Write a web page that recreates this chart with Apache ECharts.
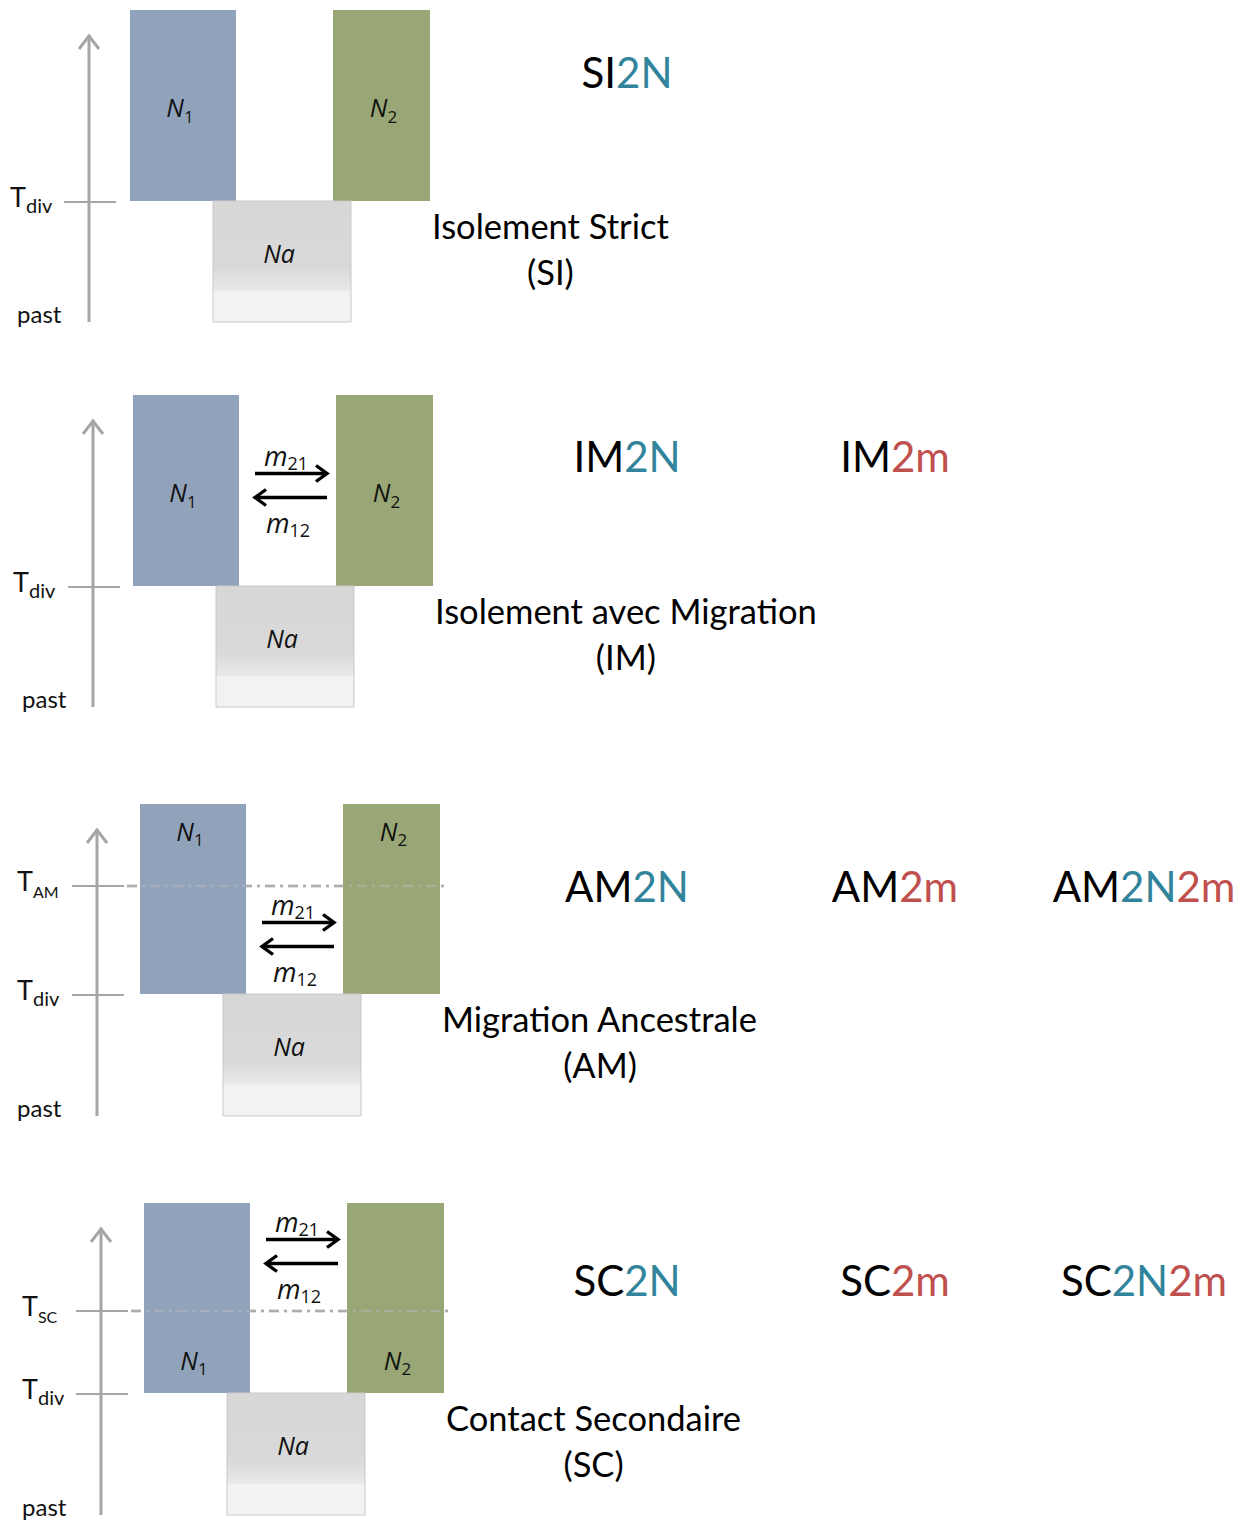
<!DOCTYPE html>
<html>
<head>
<meta charset="utf-8">
<title>Modèles démographiques</title>
<script src="https://cdn.jsdelivr.net/npm/echarts@6/dist/echarts.min.js"></script>
<style>
    html, body { margin: 0; padding: 0; background: #fff; }
    #chart { width: 1249px; height: 1521px; }
</style>
</head>
<body>
<div id="chart"></div>
<script>
// ================================
// 1. données
// ================================
const scenarios = ['SI', 'IM', 'AM', 'SC'];
const scenarioTitles = ['Isolement Strict', 'Isolement avec Migration', 'Migration Ancestrale', 'Contact Secondaire'];
const modelNames = [
    ['SI2N'],
    ['IM2N', 'IM2m'],
    ['AM2N', 'AM2m', 'AM2N2m'],
    ['SC2N', 'SC2m', 'SC2N2m']
];
// axe du temps : 0 = passé, 312 = présent
const tPast = 0;
const tPresent = 312;
const tDiv = [121, 121, 122, 122];
const tEvent = [null, null, 231, 205];        // T_AM, T_SC
const eventLabels = [null, null, 'AM', 'SC'];
const migration = [null, [121, 312], [122, 231], [205, 312]];   // période de flux m12 / m21

// ================================
// 2. mise en page
// ================================
const PANEL_TOP = [10, 395, 804, 1203];
const PANEL_SHIFT = [0, 3, 10, 14];
const PANEL_H = 312;
const PANEL_W = 1200;
const AXIS_X = [89, 93, 97, 101];       // absolu
const TLAB_X = [10, 13, 17, 22];
const PAST_X = [17, 22, 17, 22];
const MODEL_COLS = [627, 895, 1144];
const MODEL_T = [250, 251, 230, 235];
const N_LABEL_POS = ['mid', 'mid', 'top', 'bottom'];
const BOX = {
    n1: [130, 236], n2: [333, 430], na: [213, 351],
    migr: [252, 324], dash: [117, 437], axisTop: 287, titleLeft: 432
};

const GRAY = '#A6A6A6';
const TEAL = '#31849B';
const RED = '#C0504D';
const SANS = 'Lato';
const ITAL = 'Open Sans';

function richModel(name) {
    const parts = name.slice(2).match(/2[Nm]/g) || [];
    return `{k|${name.slice(0, 2)}}` + parts.map(p => p === '2N' ? `{b|${p}}` : `{r|${p}}`).join('');
}

const subRich = (mainSize, subSize, mainLH, family) => ({
    n: { fontSize: mainSize, fontFamily: family, fontStyle: 'italic', fill: '#111', lineHeight: mainLH, verticalAlign: 'top' },
    s: { fontSize: subSize, fontFamily: family, fill: '#111', lineHeight: 16, verticalAlign: 'bottom' }
});

function renderPanel(i) {
    return function (params, api) {
        const sh = PANEL_SHIFT[i];
        const P = (x, t) => api.coord([x, t]);
        const kids = [];
        const line = (a, b, style, z2) => kids.push({
            type: 'line', z2: z2 || 1,
            shape: { x1: a[0], y1: a[1], x2: b[0], y2: b[1] }, style
        });
        const text = (pos, str, style, z2) => {
            const el = { type: 'text', z2: z2 || 20, x: pos[0], y: pos[1], style: Object.assign({ text: str }, style) };
            kids.push(el);
            return el;
        };
        const rect = (xr, t0, t1, style, z2) => {
            const a = P(xr[0], t1), b = P(xr[1], t0);
            kids.push({ type: 'rect', z2: z2 || 5, shape: { x: a[0], y: a[1], width: b[0] - a[0], height: b[1] - a[1] }, style });
        };

        // ---- axe du temps ----
        const ax = AXIS_X[i] - sh;
        const top = P(ax, BOX.axisTop);
        line(P(ax, tPast), top, { stroke: GRAY, lineWidth: 3 });
        kids.push({
            type: 'polyline', z2: 2,
            shape: { points: [[top[0] - 10, top[1] + 14], [top[0], top[1] + 1], [top[0] + 10, top[1] + 14]] },
            style: { stroke: GRAY, lineWidth: 3, fill: null, lineJoin: 'miter' }
        });
        const ticks = [[tDiv[i], 'div']];
        if (tEvent[i] != null) ticks.push([tEvent[i], eventLabels[i]]);
        ticks.forEach(([t, lab]) => {
            const tt = t - 1;
            line(P(ax - 25, tt), P(ax + 27, tt), { stroke: GRAY, lineWidth: 2 });
            const p = P(TLAB_X[i] - sh, tt);
            text([p[0], p[1] - 3], `{n|T}{s|${lab}}`, {
                align: 'left', verticalAlign: 'middle',
                rich: {
                    n: { fontSize: 27, fontFamily: SANS, fill: '#111', lineHeight: 32, verticalAlign: 'top' },
                    s: { fontSize: lab === 'div' ? 20 : 16, fontFamily: SANS, fill: '#111', lineHeight: 16, verticalAlign: 'bottom' }
                }
            });
        });
        text(P(PAST_X[i] - sh, 9), 'past', { align: 'left', verticalAlign: 'middle', fontSize: 24, fontFamily: SANS, fill: '#111' });

        // ---- ligne T_AM / T_SC ----
        if (tEvent[i] != null) {
            line(P(BOX.dash[0], tEvent[i] - 1), P(BOX.dash[1], tEvent[i] - 1),
                { stroke: '#A0A0A0', lineWidth: 2.5, lineDash: [10, 5, 3, 5] }, 3);
        }

        // ---- populations ----
        rect(BOX.n1, tDiv[i], tPresent, { fill: '#91A3BA' });
        rect(BOX.n2, tDiv[i], tPresent, { fill: '#98A775' });
        rect(BOX.na, tPast, tDiv[i], {
            fill: new echarts.graphic.LinearGradient(0, 0, 0, 1, [
                { offset: 0, color: '#D7D7D7' },
                { offset: 0.55, color: '#D9D9D9' },
                { offset: 0.74, color: '#E9E9E9' },
                { offset: 0.745, color: '#F2F2F2' },
                { offset: 1, color: '#F2F2F2' }
            ]),
            stroke: '#C9C9C9', lineWidth: 1
        });
        if (tEvent[i] != null) {
            line(P(BOX.dash[0], tEvent[i] - 1), P(BOX.dash[1], tEvent[i] - 1),
                { stroke: 'rgba(185,185,185,0.5)', lineWidth: 2.5, lineDash: [10, 5, 3, 5] }, 6);
        }

        let tN;
        if (N_LABEL_POS[i] === 'top') tN = tPresent - 29;
        else if (N_LABEL_POS[i] === 'bottom') tN = tDiv[i] + 31;
        else tN = (tDiv[i] + tPresent) / 2 - 4;
        const popRich = subRich(25, 17, 30, ITAL);
        [[BOX.n1, '1', -3], [BOX.n2, '2', 2]].forEach(([xr, k, dx]) => {
            text(P((xr[0] + xr[1]) / 2 + dx, tN), `{n|N}{s|${k}}`, { align: 'center', verticalAlign: 'middle', rich: popRich });
        });
        text(P((BOX.na[0] + BOX.na[1]) / 2 - 3, tDiv[i] - 52), 'Na', {
            align: 'center', verticalAlign: 'middle', fontSize: 25, fontFamily: ITAL, fontStyle: 'italic', fill: '#111'
        });

        // ---- migration ----
        if (migration[i]) {
            const mid = (migration[i][0] + migration[i][1]) / 2;
            const tA = mid + 17, tB = mid - 7;
            const a0 = P(BOX.migr[0], tA), a1 = P(BOX.migr[1], tA);
            const b0 = P(BOX.migr[1], tB), b1 = P(BOX.migr[0], tB);
            const arrow = (s, e, dir) => {
                line(s, [e[0] - dir * 1.5, e[1]], { stroke: '#000', lineWidth: 3.6 }, 10);
                kids.push({
                    type: 'polyline', z2: 10,
                    shape: { points: [[e[0] - dir * 11, e[1] - 8], [e[0], e[1]], [e[0] - dir * 11, e[1] + 8]] },
                    style: { stroke: '#000', lineWidth: 3.4, fill: null, lineJoin: 'miter' }
                });
            };
            arrow(a0, a1, 1);
            arrow(b0, b1, -1);
            const mRich = subRich(27, 18, 30, ITAL);
            const cx = (BOX.migr[0] + BOX.migr[1]) / 2;
            text(P(cx - 5, tA + 17), '{n|m}{s|21}', { align: 'center', verticalAlign: 'middle', rich: mRich });
            text(P(cx - 3, tB - 26), '{n|m}{s|12}', { align: 'center', verticalAlign: 'middle', rich: mRich });
        }

        // ---- noms des modèles ----
        modelNames[i].forEach((name, c) => {
            text(P(MODEL_COLS[c] - sh, MODEL_T[i]), richModel(name), {
                align: 'center', verticalAlign: 'middle',
                rich: {
                    k: { fontSize: 42, fontFamily: SANS, fill: '#000' },
                    b: { fontSize: 42, fontFamily: SANS, fill: TEAL },
                    r: { fontSize: 42, fontFamily: SANS, fill: RED }
                }
            });
        });

        // ---- titre du scénario ----
        const title = text(P(BOX.titleLeft, tDiv[i] - 24), `{t|${scenarioTitles[i]}}\n{c|(${scenarios[i]})}`, {
            align: 'left', verticalAlign: 'top',
            rich: {
                t: { fontSize: 34.5, fontFamily: SANS, fill: '#000', lineHeight: 46, align: 'left' },
                c: { fontSize: 34.5, fontFamily: SANS, fill: '#000', lineHeight: 46, align: 'center' }
            }
        });
        title.y -= 23;   // centre de la 1re ligne sur la position voulue

        return { type: 'group', children: kids };
    };
}

// ================================
// 3. option
// ================================
const chart = echarts.init(document.getElementById('chart'), null, { renderer: 'svg' });

const grids = [], xAxes = [], yAxes = [], series = [];
scenarios.forEach((s, i) => {
    grids.push({ left: PANEL_SHIFT[i], top: PANEL_TOP[i], width: PANEL_W, height: PANEL_H });
    xAxes.push({ gridIndex: i, type: 'value', min: 0, max: PANEL_W, show: false });
    yAxes.push({ gridIndex: i, type: 'value', min: tPast, max: tPresent, show: false });
    series.push({
        type: 'custom', name: s, xAxisIndex: i, yAxisIndex: i,
        data: [[0, 0]], silent: true, clip: false,
        renderItem: renderPanel(i)
    });
});

chart.setOption({
    backgroundColor: '#fff',
    animation: false,
    grid: grids,
    xAxis: xAxes,
    yAxis: yAxes,
    series
});
</script>
</body>
</html>
